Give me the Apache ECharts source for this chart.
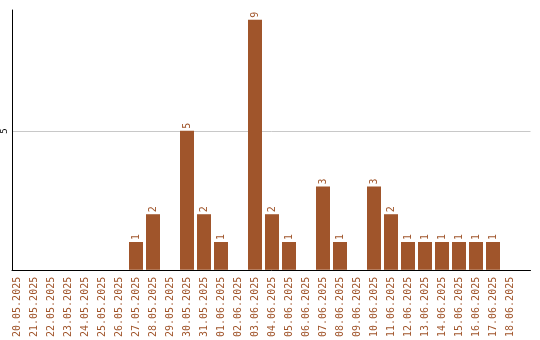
<!DOCTYPE html>
<html><head><meta charset="utf-8">
<script src="https://cdn.jsdelivr.net/npm/echarts@6/dist/echarts.min.js"></script>
<style>html,body{margin:0;padding:0;background:#fff}#c{width:540px;height:340px}</style>
</head><body><div id="c"></div>
<script>
const categories = ["20.05.2025","21.05.2025","22.05.2025","23.05.2025","24.05.2025","25.05.2025","26.05.2025","27.05.2025","28.05.2025","29.05.2025","30.05.2025","31.05.2025","01.06.2025","02.06.2025","03.06.2025","04.06.2025","05.06.2025","06.06.2025","07.06.2025","08.06.2025","09.06.2025","10.06.2025","11.06.2025","12.06.2025","13.06.2025","14.06.2025","15.06.2025","16.06.2025","17.06.2025","18.06.2025"];
const values = [0,0,0,0,0,0,0,1,2,0,5,2,1,0,9,2,1,0,3,1,0,3,2,1,1,1,1,1,1,0];
const yTicks = [5];
const yMax = 9.35;
const brown = '#a0552b';
const font = 'DejaVu Sans Mono';
const chart = echarts.init(document.getElementById('c'), null, {renderer:'canvas'});
chart.setOption({
  animation:false,
  grid:[
    {left:10.5,right:9.5,top:10,bottom:70,containLabel:false},
    {left:8.5,right:21.5,top:10,bottom:70,containLabel:false}
  ],
  xAxis:[
    {gridIndex:0,type:'category',data:[''],axisLine:{show:true,lineStyle:{color:'#000',width:1}},
      axisTick:{show:false},axisLabel:{show:false},splitLine:{show:false}},
    {gridIndex:1,type:'category',data:categories,axisLine:{show:false},axisTick:{show:false},
      axisLabel:{rotate:90,interval:0,color:brown,fontFamily:font,fontSize:10,margin:7}}
  ],
  yAxis:[
    {gridIndex:0,type:'value',min:0,max:yMax,interval:5,
      axisLine:{show:true,lineStyle:{color:'#000',width:1}},axisTick:{show:false},
      splitLine:{show:true,showMinLine:false,showMaxLine:false,lineStyle:{color:'#c8c8c8',width:1}},
      axisLabel:{show:true,rotate:90,color:'#000',fontFamily:font,fontSize:9,margin:3,
        showMaxLabel:false,formatter:v=>yTicks.includes(v)?String(v):''}},
    {gridIndex:1,type:'value',min:0,max:yMax,show:false,splitLine:{show:false}}
  ],
  series:[{type:'bar',xAxisIndex:1,yAxisIndex:1,data:values.map(v=>v===0?null:v),barWidth:14,
    itemStyle:{color:brown},
    label:{show:true,position:'top',rotate:90,align:'left',verticalAlign:'middle',distance:2,
      color:brown,fontFamily:font,fontSize:10}}]
});
</script></body></html>
